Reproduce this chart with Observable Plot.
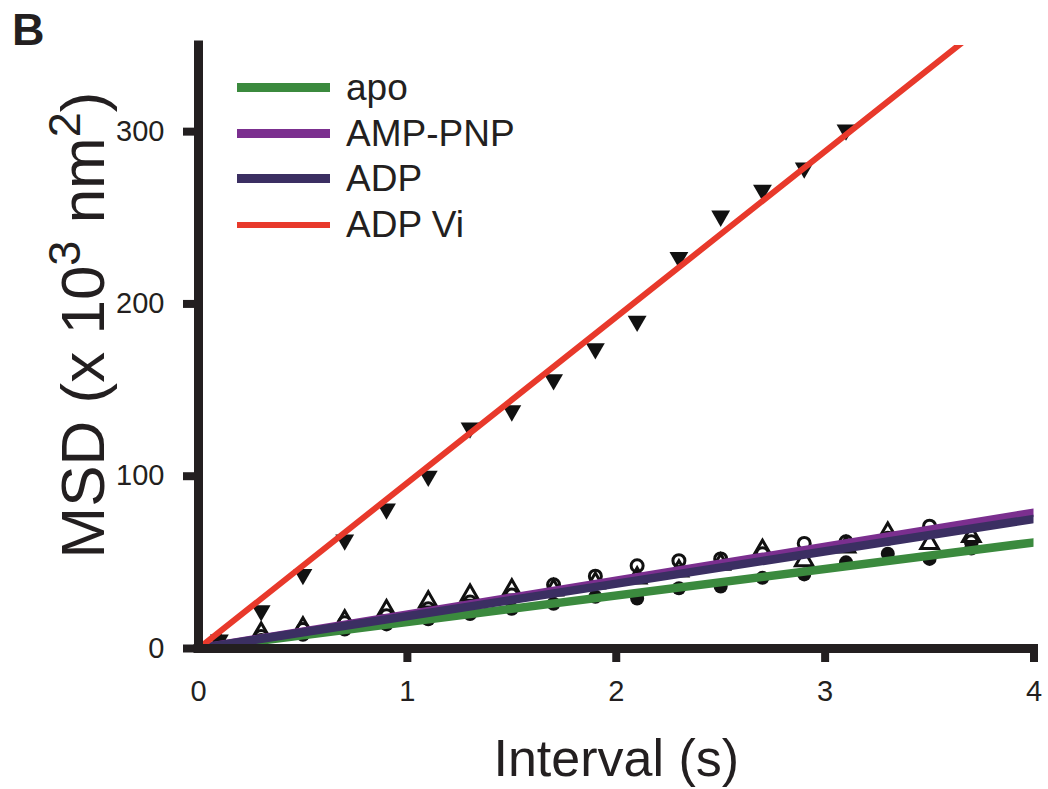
<!DOCTYPE html>
<html><head><meta charset="utf-8">
<script src="https://cdn.jsdelivr.net/npm/d3@7"></script>
<script src="https://cdn.jsdelivr.net/npm/@observablehq/plot@0.6"></script>
<style>
body{margin:0;background:#fff;font-family:"Liberation Sans",Arial,sans-serif;}
#wrap{position:relative;width:1048px;height:789px;}
#panel{position:absolute;left:12px;top:7px;font-weight:bold;font-size:45px;line-height:1;color:#231f20;}
#legend{position:absolute;left:237px;top:65px;}
.item{display:flex;align-items:center;height:45.6px;}
.sw{width:93px;margin-right:16px;}
.lab{font-size:37px;line-height:1;color:#231f20;}
</style></head><body><div id="wrap"><div id="chart"></div><div id="panel">B</div><div id="legend"></div></div>
<script>
// ---- data ----
const intervals = [0.1,0.3,0.5,0.7,0.9,1.1,1.3,1.5,1.7,1.9,2.1,2.3,2.5,2.7,2.9,3.1,3.3,3.5,3.7];
const apoMSD    = [2,5,8,11,14,17,20,23,26,30,29,35,36,41,43,50,55,52,58];
const ampPnpMSD = [3,7,11,15,19,23,27,31,37,42,48,51,52,55,61,62,64,71,62];
const adpMSD    = [3,9,12,16,22,27,31,34,34,38,41,45,49,57,51,59,67,61,65];
const adpViIntervals = [0.1,0.3,0.5,0.7,0.9,1.1,1.3,1.5,1.7,1.9,2.1,2.3,2.5,2.7,2.9,3.1];
const adpViMSD  = [5,22,43,63,81,100,128,138,156,174,190,227,251,266,279,301];

const seriesNames  = ["apo","AMP-PNP","ADP","ADP Vi"];
const fitSlopes    = [15.4,19.7,18.8,96.2];   // MSD per s of the linear fits
const seriesColors = ["#3b8a3e","#7b2f8f","#3b2f62","#e8392b"];
const lineWidths   = [8.5,8.5,8.5,6];
const legendWidths = [9,9,9,6];

const xTickLabels = [0,1,2,3,4];
const xTickMarks  = [1,2,3,4];
const yTicks      = [0,100,200,300];
const xDomain = [0,4];
const yDomain = [0,350];

// ---- tables ----
const rows = (xs, ys) => xs.map((t,i)=>({t, msd: ys[i]}));
const apoRows = rows(intervals, apoMSD);
const ampRows = rows(intervals, ampPnpMSD);
const adpRows = rows(intervals, adpMSD);
const viRows  = rows(adpViIntervals, adpViMSD);
const fitRows = seriesNames.map((s,i)=>xDomain.map(t=>({series:s, t, msd: fitSlopes[i]*t})));

const ink = "#111";
const lineOrder = [0,1,2,3];

const plot = Plot.plot({
  width: 1048, height: 789,
  marginLeft: 198, marginRight: 14.5, marginTop: 45, marginBottom: 141,
  x: {domain: xDomain},
  y: {domain: yDomain},
  style: {fontFamily: "'Liberation Sans', Arial, sans-serif", color: "#231f20", background: "white", overflow: "visible"},
  marks: [
    Plot.dot(apoRows, {x:"t", y:"msd", symbol:"circle", fill:ink, r:7}),
    Plot.dot(ampRows, {x:"t", y:"msd", symbol:"circle", fill:"none", stroke:ink, strokeWidth:3, r:6}),
    Plot.dot(adpRows, {x:"t", y:"msd", symbol:"triangle", fill:"none", stroke:ink, strokeWidth:3, r:6.5}),
    Plot.dot(viRows,  {x:"t", y:"msd", symbol:"triangle", rotate:180, fill:ink, r:7}),
    ...lineOrder.map(i => Plot.line(fitRows[i], {x:"t", y:"msd", stroke: seriesColors[i], strokeWidth: lineWidths[i], clip: true})),
    Plot.axisX({ticks: xTickLabels, tickFormat: d => String(d), tickSize: 0, tickPadding: 32, fontSize: 29, label: null}),
    Plot.axisX({ticks: xTickMarks, tickSize: 14, strokeWidth: 8, stroke: "#231f20", text: null, label: null}),
    Plot.axisY({ticks: yTicks, tickFormat: d => String(d), tickSize: 15, tickPadding: 19, strokeWidth: 8, stroke: "#231f20", fontSize: 29, label: null}),
    Plot.ruleX([0], {stroke:"#231f20", strokeWidth: 9, strokeLinecap: "square"}),
    Plot.ruleY([0], {stroke:"#231f20", strokeWidth: 9, strokeLinecap: "square"}),
    Plot.text(["Interval (s)"], {frameAnchor: "bottom", dy: 111, fontSize: 52, lineAnchor: "middle", fill: "#231f20"})
  ]
});
document.getElementById("chart").appendChild(plot);

// y-axis title with superscripts
const svg = d3.select(plot);
const yt = svg.append("text")
  .attr("transform", "translate(104,325) rotate(-90)")
  .attr("text-anchor", "middle")
  .attr("font-size", 62)
  .attr("fill", "#231f20")
  .attr("font-family", "'Liberation Sans', Arial, sans-serif");
yt.append("tspan").text("MSD (x 10");
yt.append("tspan").attr("font-size", 45).attr("dy", -24).text("3");
yt.append("tspan").attr("dy", 24).text(" nm");
yt.append("tspan").attr("font-size", 45).attr("dy", -24).text("2");
yt.append("tspan").attr("dy", 24).text(")");

// legend
const legend = d3.select("#legend");
seriesNames.forEach((s,i)=>{
  const it = legend.append("div").attr("class","item");
  it.append("div").attr("class","sw").style("height", legendWidths[i]+"px").style("background", seriesColors[i]);
  it.append("div").attr("class","lab").text(s);
});
</script>
</body></html>
